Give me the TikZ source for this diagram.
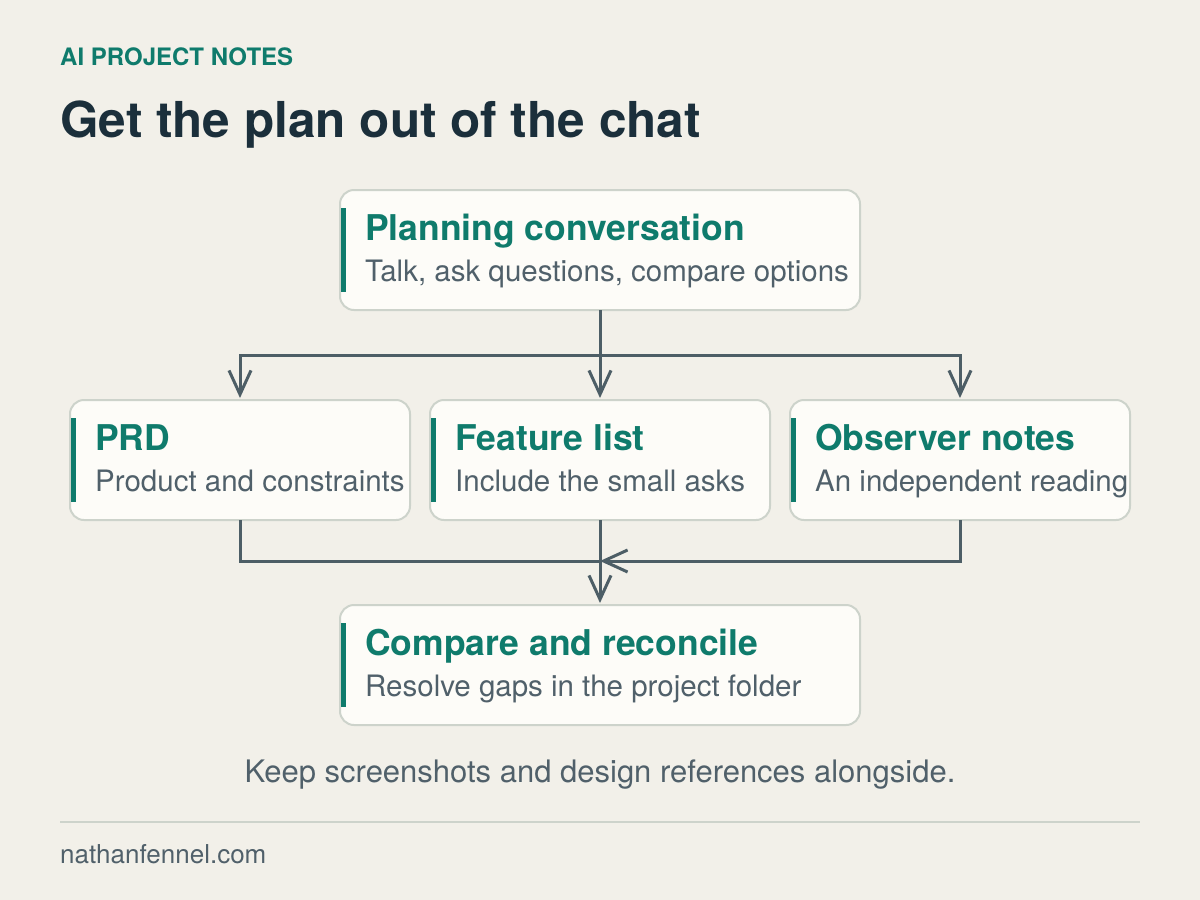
\documentclass[tikz,border=0pt]{standalone}
\usepackage{fontspec}
\setmainfont{TeX Gyre Heros}
\usetikzlibrary{arrows.meta}
\definecolor{bg}{HTML}{F2F0E9}
\definecolor{boxfill}{HTML}{FDFCF8}
\definecolor{boxline}{HTML}{CDD3CB}
\definecolor{teal}{HTML}{0F7B6C}
\definecolor{ink}{HTML}{1B2F3B}
\definecolor{muted}{HTML}{50606A}
\definecolor{conn}{HTML}{4D5E66}
\tikzset{
  card/.style={draw=boxline, line width=2pt, fill=boxfill, rounded corners=14pt,
    minimum height=120pt, inner sep=0pt, outer sep=0pt, anchor=north west},
  accent/.style={draw=teal, line width=5pt},
  cardtitle/.style={anchor=base west, inner sep=0pt, text=teal,
    font=\fontsize{35.5}{40}\selectfont\bfseries},
  cardsub/.style={anchor=base west, inner sep=0pt, text=muted,
    font=\fontsize{29.5}{34}\selectfont},
  link/.style={draw=conn, line width=3pt},
  tip/.style={-{Straight Barb[length=24pt,width=22pt,line width=3pt]}},
}
\begin{document}
\begin{tikzpicture}[x=1pt,y=-1pt]
\useasboundingbox (0,0) rectangle (1200,900);
\fill[bg] (0,0) rectangle (1200,900);

\node[anchor=base west, inner sep=0pt, text=teal, font=\fontsize{24}{28}\selectfont\bfseries] (kicker) at (60,65) {AI PROJECT NOTES};
\node[anchor=base west, inner sep=0pt, text=ink, font=\fontsize{49.5}{56}\selectfont\bfseries] (title) at (60,137) {Get the plan out of the chat};

% cards
\node[card, minimum width=520pt] (plan) at (340,190) {};
\node[card, minimum width=340pt] (prd) at (70,400) {};
\node[card, minimum width=340pt] (feat) at (430,400) {};
\node[card, minimum width=340pt] (obs) at (790,400) {};
\node[card, minimum width=520pt] (comp) at (340,605) {};

% accent bars
\foreach \n in {plan,prd,feat,obs,comp}{
  \draw[accent] ([xshift=3pt,yshift=-18pt]\n.north west) -- ([xshift=3pt,yshift=18pt]\n.south west);
}

% texts
\node[cardtitle] (plant) at (365,240) {Planning conversation};
\node[cardsub] (plans) at (365,281) {Talk, ask questions, compare options};
\node[cardtitle] (prdt) at (95,450) {PRD};
\node[cardsub] (prds) at (95,491) {Product and constraints};
\node[cardtitle] (featt) at (455,450) {Feature list};
\node[cardsub] (feats) at (455,491) {Include the small asks};
\node[cardtitle] (obst) at (815,450) {Observer notes};
\node[cardsub] (obss) at (815,491) {An independent reading};
\node[cardtitle] (compt) at (365,655) {Compare and reconcile};
\node[cardsub] (comps) at (365,696) {Resolve gaps in the project folder};

% connectors
\coordinate (split) at (600,355);
\coordinate (merge) at (600,561);
\draw[link] (plan.south) -- (split);
\draw[link, tip] (split) -| ([yshift=2pt]prd.north);
\draw[link, tip] (split) -- ([yshift=2pt]feat.north);
\draw[link, tip] (split) -| ([yshift=2pt]obs.north);
\draw[link] (prd.south) |- (merge);
\draw[link, tip] (obs.south) |- (merge);
\draw[link, tip] (feat.south) -- ([yshift=2pt]comp.north);

\node[anchor=base, inner sep=0pt, text=muted, font=\fontsize{31}{36}\selectfont] (note) at (600,782) {Keep screenshots and design references alongside.};
\draw[draw=boxline, line width=2pt] (60,822) coordinate (rl) -- (1140,822) coordinate (rr);
\node[anchor=base west, inner sep=0pt, text=muted, font=\fontsize{26}{30}\selectfont] (foot) at (60,863) {nathanfennel.com};
\end{tikzpicture}
\end{document}
